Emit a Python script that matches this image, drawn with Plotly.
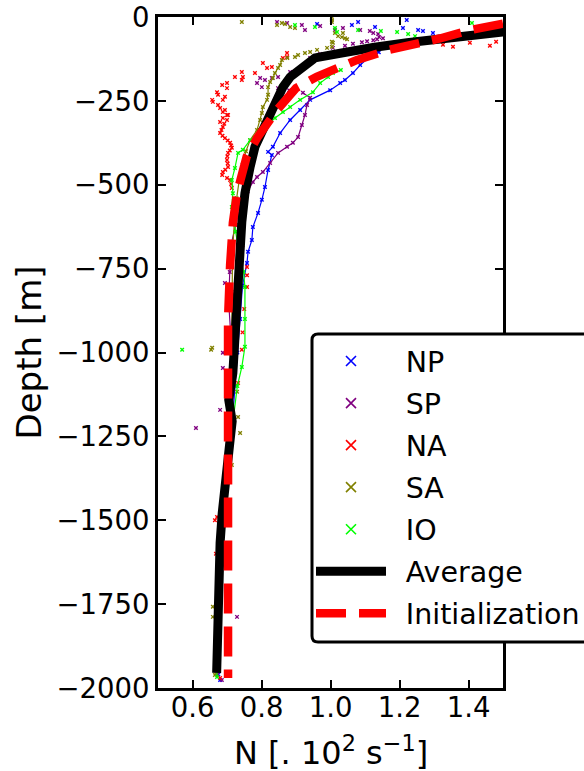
import plotly.graph_objects as go

# ---------------- data ----------------
# NP (North Pacific)
np_line_n = [1.140, 1.120, 1.086, 1.065, 1.042, 1.028, 0.999, 0.941, 0.912, 0.883, 0.854, 0.833, 0.819, 0.830,
             0.819, 0.810, 0.801, 0.790, 0.775, 0.772, 0.761, 0.758, 0.745, 0.738, 0.730, 0.722, 0.716, 0.705,
             0.697, 0.690, 0.680, 0.674, 0.675]
np_line_d = [-105, -113, -143, -167, -188, -197, -218, -247, -277, -307, -346, -387, -402, -411,
             -456, -507, -545, -584, -626, -665, -700, -733, -800, -900, -1000, -1100, -1200, -1300,
             -1400, -1500, -1650, -1800, -1960]
np_dots_n = [1.297, 1.268, 1.254, 1.221, 1.210, 1.129, 1.080, 1.062, 0.961, 0.680]
np_dots_d = [-48, -42, -39, -9, -33, -30, -15, -24, -21, -1976]

# SP (South Pacific)
sp_line_n = [0.920, 0.941, 0.932, 0.926, 0.917, 0.906, 0.891, 0.874, 0.848, 0.825, 0.804, 0.787, 0.775,
             0.760, 0.740, 0.725, 0.713, 0.712, 0.708, 0.705, 0.715, 0.720, 0.712, 0.703, 0.695, 0.688,
             0.680, 0.674, 0.672]
sp_line_d = [-226, -241, -262, -292, -322, -358, -375, -387, -405, -435, -462, -477, -492,
             -520, -560, -620, -674, -703, -760, -850, -1000, -1100, -1200, -1300, -1400, -1500,
             -1650, -1800, -1960]
sp_dots_n = [0.845, 0.874, 0.917, 0.926, 0.970, 1.013, 1.036, 1.086, 1.114, 1.124, 1.138, 1.152, 1.141,
             1.135, 1.124, 1.106, 1.091, 1.065, 1.042, 1.007, 0.970, 0.941, 0.883, 0.848, 0.830, 0.810,
             0.796, 0.787, 0.801, 0.848, 0.880,
             0.694, 0.688, 0.688, 0.680, 0.610, 0.729, 0.685]
sp_dots_d = [-15, -18, -24, -39, -27, -39, -33, -39, -42, -48, -51, -63, -60,
             -66, -69, -72, -75, -80, -86, -92, -110, -122, -164, -179, -182, -188,
             -182, -197, -209, -212, -218,
             -793, -1001, -1046, -1171, -1225, -1788, -1976]

# NA (North Atlantic)
na_dots_n = [1.326, 1.355, 1.404, 1.462, 1.480,
             0.874, 0.874, 0.862, 0.816, 0.830, 0.804, 0.781, 0.743, 0.746, 0.743, 0.723, 0.700, 0.686,
             0.700, 0.671, 0.674, 0.694, 0.688, 0.659, 0.657, 0.674, 0.680, 0.688, 0.700, 0.688, 0.680,
             0.694, 0.703, 0.700, 0.692, 0.688, 0.684, 0.680, 0.687, 0.694, 0.702, 0.709, 0.712, 0.714,
             0.708, 0.703, 0.701, 0.700, 0.702, 0.703, 0.695, 0.688, 0.686, 0.700, 0.709, 0.712, 0.714,
             0.720, 0.728, 0.735, 0.745, 0.758, 0.758, 0.758, 0.750, 0.745, 0.743, 0.732, 0.720, 0.705,
             0.690, 0.671, 0.665, 0.668, 0.670, 0.672, 0.680]
na_dots_d = [-83, -89, -77, -86, -74,
             -107, -119, -122, -152, -149, -137, -167, -164, -179, -188, -179, -197, -203,
             -212, -224, -232, -238, -247, -253, -247, -262, -271, -283, -292, -301, -313,
             -277, -292, -307, -318, -328, -337, -346, -354, -361, -368, -375, -383, -390,
             -398, -405, -415, -426, -437, -447, -455, -462, -471, -480, -486, -498, -510,
             -540, -580, -620, -680, -745, -770, -805, -870, -940, -992, -1091, -1200, -1300,
             -1400, -1490, -1500, -1600, -1750, -1900, -1970]

# SA (South Atlantic)
sa_line_n = [0.859, 0.854, 0.848, 0.839, 0.833, 0.825, 0.819, 0.819, 0.816, 0.804, 0.801, 0.796, 0.787,
             0.767, 0.755, 0.745, 0.735, 0.728, 0.722, 0.716, 0.714, 0.714, 0.716, 0.712, 0.705, 0.695,
             0.685, 0.675, 0.668, 0.665]
sa_line_d = [-128, -143, -152, -167, -182, -194, -209, -232, -247, -268, -286, -307, -337,
             -367, -400, -440, -490, -540, -600, -700, -820, -942, -1050, -1150, -1300, -1450,
             -1600, -1750, -1900, -1961]
sa_dots_n = [0.743, 0.845, 0.868, 0.859, 0.883, 0.897, 1.004, 1.004, 1.004, 1.036, 1.033, 1.042, 1.048,
             1.013, 1.022, 1.004, 1.007, 1.004, 0.990, 0.961, 0.941, 0.926, 0.906, 0.897, 0.875,
             0.657, 0.654, 0.729, 0.732, 0.738, 0.714, 0.659, 0.659]
sa_dots_d = [-15, -24, -21, -18, -30, -33, -3, -9, -15, -48, -60, -63, -66,
             -48, -57, -74, -77, -89, -92, -98, -104, -107, -113, -119, -122,
             -986, -992, -1117, -1192, -1240, -1335, -1758, -1788]

# IO (Indian Ocean)
io_line_n = [1.030, 1.007, 0.993, 0.970, 0.949, 0.912, 0.883, 0.862, 0.839, 0.801, 0.767, 0.746, 0.732,
             0.723, 0.714, 0.717, 0.714, 0.717, 0.725, 0.735, 0.748, 0.752, 0.752, 0.752, 0.743, 0.730,
             0.718, 0.705, 0.695, 0.688, 0.680, 0.673, 0.671]
io_line_d = [-158, -167, -179, -197, -224, -247, -268, -283, -301, -337, -367, -396, -405,
             -450, -486, -525, -566, -575, -640, -700, -760, -805, -900, -983, -1043, -1100,
             -1200, -1300, -1400, -1500, -1650, -1800, -1967]
io_dots_n = [0.955, 1.013, 1.019, 1.146, 1.193, 1.225, 1.245, 1.410, 0.897, 1.080, 0.570]
io_dots_d = [-30, -33, -45, -42, -45, -51, -57, -18, -24, -39, -992]

# Average profile
avg_n = [1.750, 1.506, 1.413, 1.317, 1.222, 1.123, 1.086, 1.028, 0.955, 0.912, 0.883, 0.862, 0.848, 0.833,
         0.819, 0.801, 0.781, 0.767, 0.752, 0.743, 0.738, 0.735, 0.729, 0.726, 0.717, 0.705, 0.715, 0.709,
         0.697, 0.686, 0.680, 0.676, 0.673, 0.671, 0.670]
avg_d = [-15, -41, -53, -65, -77, -91, -96, -108, -122, -152, -179, -209, -238, -271,
         -307, -337, -387, -447, -525, -610, -703, -805, -903, -983, -1061, -1141, -1205, -1261,
         -1359, -1480, -1568, -1669, -1767, -1866, -1955]

# Initialization profile
init_n = [1.500, 1.477, 1.404, 1.317, 1.170, 1.077, 0.960, 0.900, 0.845, 0.787, 0.757, 0.729, 0.717,
          0.709, 0.706, 0.703, 0.703, 0.703, 0.703]
init_d = [-20, -24, -39, -64, -98, -128, -178, -212, -277, -361, -416, -525, -614,
          -740, -820, -900, -1200, -1600, -1970]

x_ticks = [0.6, 0.8, 1.0, 1.2, 1.4]
x_labels = ["0.6", "0.8", "1.0", "1.2", "1.4"]
y_ticks = [0, -250, -500, -750, -1000, -1250, -1500, -1750, -2000]
y_labels = ["0", "\u2212250", "\u2212500", "\u2212750", "\u22121000", "\u22121250", "\u22121500",
            "\u22121750", "\u22122000"]

# ---------------- figure ----------------
FONT = "DejaVu Sans"
PAD = "\u00a0\u2009"  # small gap between legend symbol and label, as in the reference
fig = go.Figure()

basins = [
    ("NP", "#0000ff", np_line_n, np_line_d, np_dots_n, np_dots_d),
    ("SP", "#800080", sp_line_n, sp_line_d, sp_dots_n, sp_dots_d),
    ("NA", "#ff0000", None, None, na_dots_n, na_dots_d),
    ("SA", "#808000", sa_line_n, sa_line_d, sa_dots_n, sa_dots_d),
    ("IO", "#00ff00", io_line_n, io_line_d, io_dots_n, io_dots_d),
]

for name, col, ln, ld, dn, dd in basins:
    if ln is not None:
        fig.add_trace(go.Scatter(x=ln, y=ld, mode="lines", line=dict(color=col, width=1.2),
                                 showlegend=False, legendgroup=name, hoverinfo="skip"))
        xs = ln + dn
        ys = ld + dd
    else:
        xs, ys = dn, dd
    fig.add_trace(go.Scatter(x=xs, y=ys, mode="markers", name=name, legendgroup=name, showlegend=False,
                             marker=dict(symbol="x-thin", size=3.5, color=col,
                                         line=dict(color=col, width=1.4))))
    # legend entry (larger marker, as in the reference legend)
    fig.add_trace(go.Scatter(x=[None], y=[None], mode="markers", name=PAD + name, legendgroup=name,
                             marker=dict(symbol="x-thin", size=10, color=col,
                                         line=dict(color=col, width=1.6))))

fig.add_trace(go.Scatter(x=avg_n, y=avg_d, mode="lines", name=PAD + "Average", legendgroup="Average",
                         line=dict(color="black", width=9)))
fig.add_trace(go.Scatter(x=init_n, y=init_d, mode="lines", name=PAD + "Initialization", legendgroup="Init",
                         line=dict(color="#ff0000", width=8.5, dash="30px,13px")))

L, R, T, B = 158, 81, 17, 83
W, H = 584, 771
PW, PH = W - L - R, H - T - B

def px_x(p):
    return (p - L) / PW

def px_y(p):
    return (H - B - p) / PH

axis_common = dict(showline=True, linewidth=3, linecolor="black", mirror="ticks",
                   ticks="inside", ticklen=8, tickwidth=2, tickcolor="black",
                   showgrid=False, zeroline=False,
                   tickfont=dict(family=FONT, size=27.5, color="black"))

fig.update_xaxes(range=[0.5, 1.5], tickvals=x_ticks, ticktext=x_labels, ticklabelstandoff=-7,
                 **axis_common)
fig.update_yaxes(range=[-2000, 0], tickvals=y_ticks, ticktext=y_labels, **axis_common)

# rounded legend frame (extends past the right edge, as in the reference)
bx0, bx1, by0, by1, rad = 312, 640, 334, 642, 6
rx, ry = rad / PW, rad / PH
X0, X1, YT, YB = px_x(bx0), px_x(bx1), px_y(by0), px_y(by1)
frame_path = (f"M {X0+rx} {YT} L {X1} {YT} L {X1} {YB} L {X0+rx} {YB} "
              f"Q {X0} {YB} {X0} {YB+ry} L {X0} {YT-ry} Q {X0} {YT} {X0+rx} {YT} Z")

fig.update_layout(
    width=W, height=H,
    margin=dict(l=L, r=R, t=T, b=B, autoexpand=False),
    plot_bgcolor="white", paper_bgcolor="white",
    font=dict(family=FONT, size=27, color="black"),
    shapes=[dict(type="path", path=frame_path, xref="paper", yref="paper", layer="above",
                 fillcolor="white", line=dict(color="black", width=3))],
    legend=dict(x=px_x(311), y=px_y(336), xanchor="left", yanchor="top",
                bgcolor="rgba(0,0,0,0)", borderwidth=0,
                font=dict(family=FONT, size=28.5, color="black"),
                itemsizing="trace", itemwidth=70, traceorder="grouped", tracegroupgap=2),
    annotations=[
        dict(text="N [. 10<sup>2</sup> s<sup>\u22121</sup>]", x=0.5, y=px_y(751), xref="paper", yref="paper",
             xanchor="center", yanchor="middle", showarrow=False,
             font=dict(family=FONT, size=32, color="black")),
        dict(text="Depth [m]", x=px_x(28), y=0.5, xref="paper", yref="paper", textangle=-90,
             xanchor="center", yanchor="middle", showarrow=False,
             font=dict(family=FONT, size=34, color="black")),
    ],
)

fig.write_html("out.html", config={"displayModeBar": False},
               post_script="document.body.style.margin='0';document.body.style.overflow='hidden';")
